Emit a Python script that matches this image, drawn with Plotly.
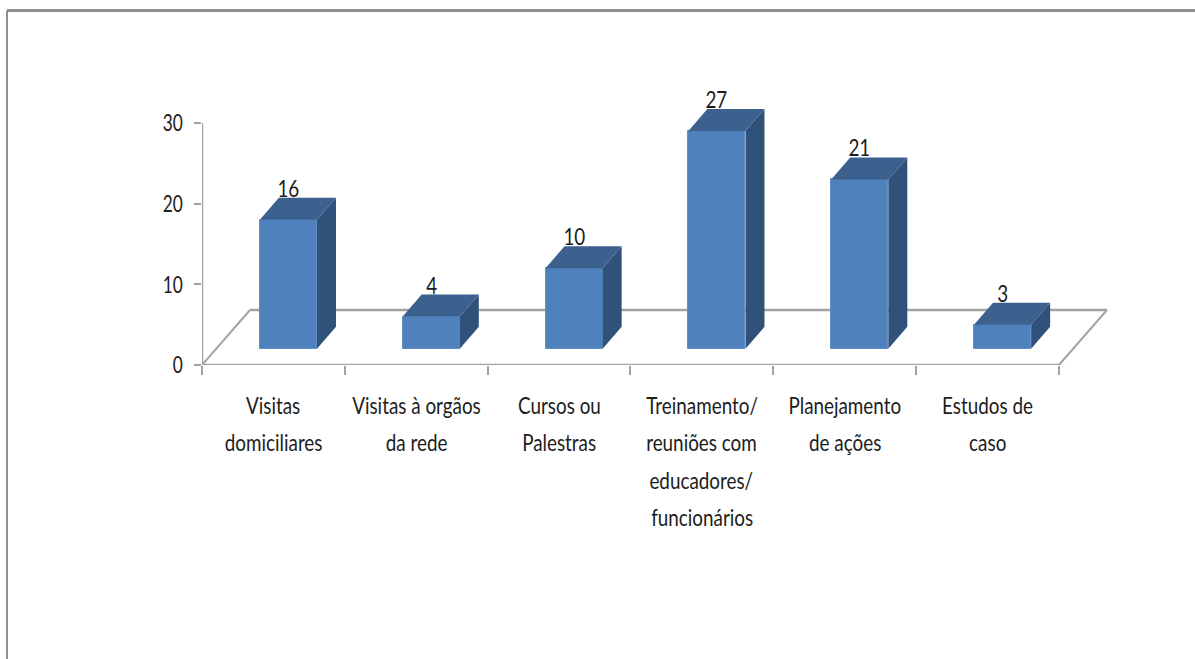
import plotly.graph_objects as go

# chart data
label_lines = [
    ['Visitas', 'domiciliares'],
    ['Visitas à orgãos', 'da rede'],
    ['Cursos ou', 'Palestras'],
    ['Treinamento/', 'reuniões com', 'educadores/', 'funcionários'],
    ['Planejamento', 'de ações'],
    ['Estudos de', 'caso'],
]
values = [16, 4, 10, 27, 21, 3]
y_ticks = [0, 10, 20, 30]

W, H = 1195, 659
LEFT, BOTTOM = 202, 365      # pixel of x=0 / y=0
PX_X, PX_Y = 142.83, 8.067   # pixels per category / per unit

FONT = 'Lato'
TEXT = '#1c1c1c'
GREY = '#a3a3a3'
FRAME = '#8e8e8e'

# fake 3d: bars stand on the middle of the floor
FLOOR_DX, FLOOR_DY = 48 / PX_X, 55 / PX_Y
BAR_X, BAR_BASE = 0.605, 2.0
BAR_W = 0.40
SIDE_DX, SIDE_DY = 19 / PX_X, 22 / PX_Y

n = len(values)
centers = [i + BAR_X for i in range(n)]

side_x, side_y, top_x, top_y = [], [], [], []
for c, v in zip(centers, values):
    r = c + BAR_W / 2
    l = c - BAR_W / 2
    t = BAR_BASE + v
    side_x += [r, r + SIDE_DX, r + SIDE_DX, r, r, None]
    side_y += [BAR_BASE, BAR_BASE + SIDE_DY, t + SIDE_DY, t, BAR_BASE, None]
    top_x += [l, l + SIDE_DX, r + SIDE_DX, r, l, None]
    top_y += [t, t + SIDE_DY, t + SIDE_DY, t, t, None]

fig = go.Figure()
fig.add_trace(go.Bar(x=centers, y=values, base=BAR_BASE, width=BAR_W,
                     marker=dict(color='#4f81bd', line=dict(color='#5f8fc8', width=1)),
                     showlegend=False, hoverinfo='skip'))
fig.add_trace(go.Scatter(x=side_x, y=side_y, mode='lines', fill='toself', fillcolor='#30527a',
                         line=dict(width=0, color='#30527a'), showlegend=False, hoverinfo='skip'))
fig.add_trace(go.Scatter(x=top_x, y=top_y, mode='lines', fill='toself', fillcolor='#3c618f',
                         line=dict(width=0, color='#3c618f'), showlegend=False, hoverinfo='skip'))

# floor and axis lines go under the bars
line = dict(color=GREY, width=2.5)
fig.add_shape(type='line', x0=0, y0=0, x1=FLOOR_DX, y1=FLOOR_DY, line=dict(color=GREY, width=2), layer='below')
fig.add_shape(type='line', x0=FLOOR_DX, y0=FLOOR_DY, x1=n + FLOOR_DX, y1=FLOOR_DY, line=line, layer='below')
fig.add_shape(type='line', x0=n, y0=0, x1=n + FLOOR_DX, y1=FLOOR_DY, line=dict(color=GREY, width=2), layer='below')
fig.add_shape(type='line', x0=0, y0=0, x1=n, y1=0, line=line, layer='below')
fig.add_shape(type='line', x0=0, y0=0, x1=0, y1=max(y_ticks), line=line, layer='below')

# outer frame, only top and left are visible in the picture
frame_left = (7 - LEFT) / (W - LEFT)
frame_top = (BOTTOM - 10.5) / BOTTOM
frame_bottom = (BOTTOM - H) / BOTTOM
fig.add_shape(type='line', xref='paper', yref='paper', x0=frame_left, x1=1, y0=frame_top, y1=frame_top,
              line=dict(color=FRAME, width=3))
fig.add_shape(type='line', xref='paper', yref='paper', x0=frame_left, x1=frame_left, y0=frame_bottom, y1=frame_top,
              line=dict(color=FRAME, width=2))

# data labels
for c, v in zip(centers, values):
    fig.add_annotation(x=c, y=BAR_BASE + v, yshift=32, text=str(v), showarrow=False,
                       yanchor='middle', font=dict(family=FONT, size=23, color=TEXT))

# category labels, line by line because the pitch is wider than tick labels allow
for i, lines in enumerate(label_lines):
    for j, txt in enumerate(lines):
        fig.add_annotation(x=i + 0.5, y=0, yshift=-(40 + 37.3 * j), text=txt, showarrow=False,
                           yanchor='middle', font=dict(family=FONT, size=23, color=TEXT))

fig.update_xaxes(range=[0, (W - LEFT) / PX_X], tickvals=list(range(n + 1)), showticklabels=False,
                 ticks='outside', ticklen=9, tickwidth=2, tickcolor=GREY,
                 showgrid=False, zeroline=False, showline=False)
fig.update_yaxes(range=[0, BOTTOM / PX_Y], tickvals=y_ticks, ticks='outside', ticklen=7, tickwidth=2,
                 tickcolor=GREY, ticklabelstandoff=9, tickfont=dict(family=FONT, size=24, color=TEXT),
                 showgrid=False, zeroline=False, showline=False)
fig.update_layout(width=W, height=H, margin=dict(l=LEFT, r=0, t=0, b=H - BOTTOM, pad=0),
                  paper_bgcolor='white', plot_bgcolor='white', showlegend=False, bargap=0)

# the original text is squeezed sideways, no narrow font installed so scale it
css = """
body { margin: 0; overflow: hidden; }
.annotation-text { transform-box: fill-box; transform-origin: center; scale: 0.82 1; }
.ytick text { transform-box: fill-box; transform-origin: right center; scale: 0.72 1; }
"""
post = "var s = document.createElement('style'); s.textContent = `" + css + "`; document.head.appendChild(s);"
fig.write_html('out.html', post_script=post, config=dict(displayModeBar=False))
